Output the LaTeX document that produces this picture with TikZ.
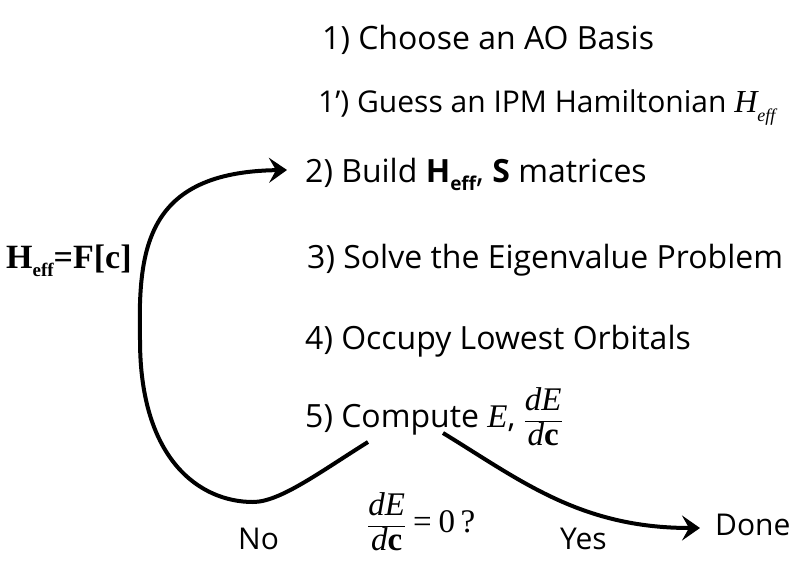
\documentclass[tikz,border=0pt]{standalone}
\usepackage{fontspec}
\setmainfont{Open Sans}
\newfontfamily\tms{Liberation Serif}
\usetikzlibrary{arrows.meta}
\newcommand{\tit}[1]{{\tms\itshape #1}}
\newcommand{\dEdc}{\ensuremath{\displaystyle\frac{\hbox{\fontsize{33}{36}\selectfont\tit{dE}}}{\hbox{\fontsize{33}{36}\selectfont\tit{d}{\tms\bfseries c}}}}}
\tikzset{
  lbl/.style={inner sep=0pt, anchor=base west, font=\fontsize{32}{38}\selectfont},
  conn/.style={line width=4pt, -{Stealth[length=18pt, width=25pt, inset=7pt]}},
}
\begin{document}
\begin{tikzpicture}[x=1pt, y=-1pt]
\useasboundingbox (0,0) rectangle (790,560);
\fill[white] (0,0) rectangle (790,560);
\node[lbl] (s1) at (322,49) {1) Choose an AO Basis};
\node[lbl, font=\fontsize{30}{36}\selectfont] (s1p) at (318,112) {1{\char"27}) Guess an IPM Hamiltonian {\fontsize{32}{36}\selectfont\tit{H}}\raisebox{-0.3em}{\fontsize{18}{18}\selectfont\tit{eff}}};
\node[lbl] (s2) at (305,182) {2) Build \textbf{H}\raisebox{-0.25em}{\fontsize{19}{19}\selectfont\bfseries eff}, \textbf{S} matrices};
\node[lbl] (s3) at (307,268) {3) Solve the Eigenvalue Problem};
\node[lbl] (s4) at (305,349) {4) Occupy Lowest Orbitals};
\node[lbl] (s5) at (305,427) {5) Compute {\fontsize{33}{36}\selectfont\tit{E}}, \dEdc};
\node[inner sep=0pt, anchor=west, font=\fontsize{33}{38}\selectfont] (q) at (367,522) {$\dEdc \mathrel{\hbox{\tms =}} \hbox{\tms 0\,?}$};
\node[inner sep=0pt, anchor=base west, font=\fontsize{34}{38}\selectfont\tms\bfseries] (heff) at (6,268) {H\raisebox{-0.25em}{\fontsize{19}{19}\selectfont eff}=F[c]};
\node[lbl, font=\fontsize{30}{36}\selectfont] (no) at (238,549) {No};
\node[lbl, font=\fontsize{30}{36}\selectfont] (yes) at (560,549) {Yes};
\node[lbl, font=\fontsize{30}{36}\selectfont] (done) at (715,535) {Done};
\coordinate (a0) at (368,442);
\coordinate (a1) at (253,502);
\coordinate (a2) at (140,340);
\coordinate (a3) at (287,170);
\draw[conn] (a0) .. controls (320,472) and (280,502) .. (a1)
  .. controls (200,502) and (140,460) .. (a2)
  .. controls (138,250) and (145,172) .. (a3);
\coordinate (b0) at (443,433);
\coordinate (b1) at (700,528);
\draw[conn] (b0) .. controls (520,480) and (580,528) .. (b1);
\end{tikzpicture}
\end{document}
